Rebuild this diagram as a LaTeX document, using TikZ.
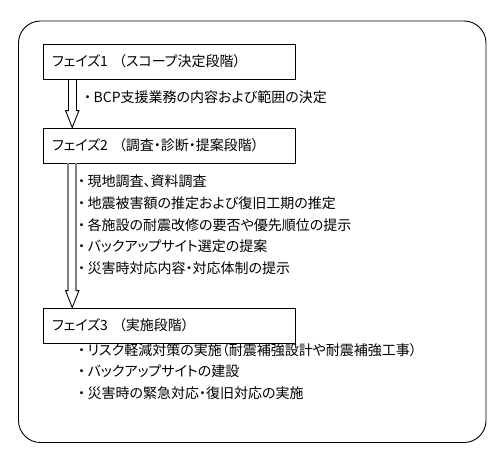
\documentclass[tikz,border=0pt]{standalone}
\usepackage{fontspec}
\setmainfont{Noto Sans CJK JP}[RawFeature={+palt}]
\usetikzlibrary{calc}
\newcommand\bul{・\kern2.5pt}
\tikzset{
  phasebox/.style={draw=black, line width=0.9pt, rectangle, minimum width=252pt, minimum height=35pt, inner sep=0pt},
  phaselabel/.style={anchor=west, inner sep=0pt, font=\fontsize{14}{16}\selectfont},
  itemtext/.style={anchor=west, inner sep=0pt, font=\fontsize{14}{16}\selectfont},
  frame/.style={draw=black, line width=0.9pt, rounded corners=22pt},
  shaftblack/.style={draw=black, line width=0.9pt},
  shaftgray/.style={draw=black!50, line width=1.6pt},
  headline/.style={draw=black, line width=0.9pt, line join=miter}
}
\newcommand\hollowarrow[3]{%
  \draw[#1] let \p1=(#2), \p2=(#3) in
    (\x1-4pt,\y1) -- (\x1-4pt,\y2+17pt)
    (\x1+4pt,\y1) -- (\x1+4pt,\y2+17pt);
  \draw[headline] let \p1=(#2), \p2=(#3) in
    (\x1-4pt,\y2+17pt) -- (\x1-6.7pt,\y2+17pt) -- (\x2,\y2) -- (\x1+6.7pt,\y2+17pt) -- (\x1+4pt,\y2+17pt);
}
\begin{document}
\begin{tikzpicture}[x=1pt,y=-1pt]
\useasboundingbox (0,0) rectangle (503,458);
\fill[white] (0,0) rectangle (503,458);
\draw[frame] (18.5,21) rectangle (486,442.5);

\node[phasebox] (b1) at (169,61.5) {};
\node[phasebox] (b2) at (169,145.5) {};
\node[phasebox] (b3) at (169,325.5) {};

\node[phaselabel] (l1) at (52,61.5) {フェイズ1\hspace{11pt}（スコープ決定段階）};
\node[phaselabel] (l2) at (52,145.5) {フェイズ2\hspace{11pt}（調査・診断・提案段階）};
\node[phaselabel] (l3) at (52,325.5) {フェイズ3\hspace{11pt}（実施段階）};

\coordinate (a1t) at ($(b1.south west)+(29.7,0)$);
\coordinate (a1b) at ($(b2.north west)+(29.7,0)$);
\coordinate (a2t) at ($(b2.south west)+(29.7,0)$);
\coordinate (a2b) at ($(b3.north west)+(29.7,0)$);
\hollowarrow{shaftblack}{a1t}{a1b}
\hollowarrow{shaftgray}{a2t}{a2b}

\node[itemtext] (t1) at (84,97.3) {\bul BCP支援業務の内容および範囲の決定};

\node[itemtext] (t2a) at (78,181.7) {\bul 現地調査、資料調査};
\node[itemtext] (t2b) at (78,203.3) {\bul 地震被害額の推定および復旧工期の推定};
\node[itemtext] (t2c) at (78,225) {\bul 各施設の耐震改修の要否や優先順位の提示};
\node[itemtext] (t2d) at (78,246.7) {\bul バックアップサイト選定の提案};
\node[itemtext] (t2e) at (78,268.3) {\bul 災害時対応内容・対応体制の提示};

\node[itemtext] (t3a) at (78,350) {\bul リスク軽減対策の実施（耐震補強設計や耐震補強工事）};
\node[itemtext] (t3b) at (78,371.7) {\bul バックアップサイトの建設};
\node[itemtext] (t3c) at (78,393.3) {\bul 災害時の緊急対応・復旧対応の実施};
\end{tikzpicture}
\end{document}
